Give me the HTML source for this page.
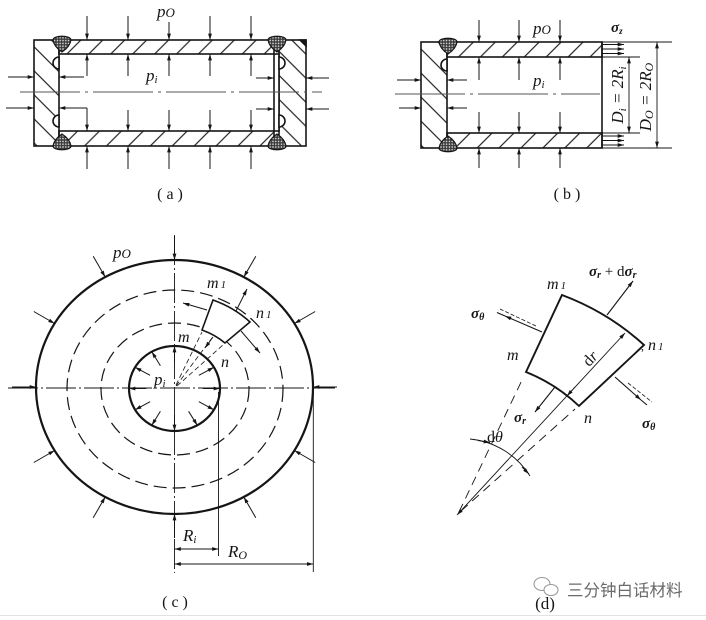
<!DOCTYPE html>
<html><head><meta charset="utf-8">
<style>
html,body{margin:0;padding:0;background:#fff;}
svg{display:block;}
text{font-family:"Liberation Serif",serif;fill:#151515;}
.it{font-style:italic;}
</style></head><body>
<svg width="706" height="620" viewBox="0 0 706 620" xmlns="http://www.w3.org/2000/svg">
<defs>
<marker id="ar" viewBox="0 0 10 6" refX="10" refY="3" markerWidth="7" markerHeight="3.8" markerUnits="userSpaceOnUse" orient="auto-start-reverse"><path d="M0,0 L10,3 L0,6 Z" fill="#151515"/></marker>
<pattern id="hc" width="17" height="17" patternUnits="userSpaceOnUse" patternTransform="rotate(-45)"><line x1="8" y1="0" x2="8" y2="17" stroke="#222" stroke-width="1.2"/></pattern>
<pattern id="hw" width="15.5" height="15.5" patternUnits="userSpaceOnUse" patternTransform="rotate(45)"><line x1="8" y1="0" x2="8" y2="15.5" stroke="#222" stroke-width="1.2"/></pattern>
<pattern id="wd" width="2.8" height="2.8" patternUnits="userSpaceOnUse"><rect width="2.8" height="2.8" fill="#3a3a3a"/><circle cx="1.4" cy="1.4" r="0.8" fill="#e6e6e6"/></pattern>
</defs>
<rect width="706" height="620" fill="#fff"/>

<!-- ================= (a) ================= -->
<g stroke="#151515" stroke-width="1.6" fill="none">
  <rect x="34" y="40" width="25" height="106" fill="url(#hc)"/>
  <rect x="59" y="40" width="215" height="14" fill="url(#hw)"/>
  <rect x="59" y="131" width="215" height="15" fill="url(#hw)"/>
  <rect x="279" y="40" width="27" height="106" fill="url(#hc)"/>
  <rect x="274" y="54" width="5" height="77" fill="#fff"/>
  <path d="M300,40 L306,40 L306,46 Z" fill="#151515"/>
  <path d="M59,57 A6,6 0 0 0 59,69 Z" fill="#fff"/>
  <path d="M59,115 A6,6 0 0 0 59,127 Z" fill="#fff"/>
  <path d="M279,57 A6,6 0 0 1 279,69 Z" fill="#fff"/>
  <path d="M279,115 A6,6 0 0 1 279,127 Z" fill="#fff"/>
  <path d="M53,40 C53,35 71,35 71,40 C70,46 65,50 62,52 C59,50 54,46 53,40 Z" fill="url(#wd)" stroke-width="1.2"/>
  <path d="M53,146 C53,151 71,151 71,146 C70,140 65,136 62,134 C59,136 54,140 53,146 Z" fill="url(#wd)" stroke-width="1.2"/>
  <path d="M268,40 C268,35 286,35 286,40 C285,46 280,50 277,52 C274,50 269,46 268,40 Z" fill="url(#wd)" stroke-width="1.2"/>
  <path d="M268,146 C268,151 286,151 286,146 C285,140 280,136 277,134 C274,136 269,140 268,146 Z" fill="url(#wd)" stroke-width="1.2"/>
</g>
<line x1="20" y1="92" x2="322" y2="92" stroke="#555" stroke-width="0.9" stroke-dasharray="60 5 3 5"/>
<g stroke="#151515" stroke-width="1" marker-end="url(#ar)">
  <line x1="87" y1="16" x2="87" y2="40"/><line x1="128" y1="16" x2="128" y2="40"/><line x1="169" y1="22" x2="169" y2="40"/><line x1="210" y1="16" x2="210" y2="40"/><line x1="251" y1="16" x2="251" y2="40"/>
  <line x1="87" y1="76" x2="87" y2="54"/><line x1="128" y1="76" x2="128" y2="54"/><line x1="169" y1="76" x2="169" y2="54"/><line x1="210" y1="76" x2="210" y2="54"/><line x1="251" y1="76" x2="251" y2="54"/>
  <line x1="87" y1="108" x2="87" y2="131"/><line x1="128" y1="110" x2="128" y2="131"/><line x1="169" y1="110" x2="169" y2="131"/><line x1="210" y1="110" x2="210" y2="131"/><line x1="251" y1="110" x2="251" y2="131"/>
  <line x1="87" y1="169" x2="87" y2="146"/><line x1="128" y1="169" x2="128" y2="146"/><line x1="169" y1="169" x2="169" y2="146"/><line x1="210" y1="169" x2="210" y2="146"/><line x1="251" y1="169" x2="251" y2="146"/>
  <line x1="8" y1="77" x2="34" y2="77"/><line x1="6" y1="108" x2="34" y2="108"/>
  <line x1="84" y1="77" x2="59" y2="77"/><line x1="87" y1="108" x2="59" y2="108"/>
  <line x1="256" y1="78" x2="274" y2="78"/><line x1="256" y1="109" x2="274" y2="109"/>
  <line x1="329" y1="78" x2="306" y2="78"/><line x1="329" y1="109" x2="306" y2="109"/>
</g>
<text x="157" y="17" class="it" font-size="17">p<tspan font-size="13">O</tspan></text>
<text x="146" y="81" class="it" font-size="17">p<tspan font-size="11" dy="2">i</tspan></text>
<text x="170" y="199" font-size="16" text-anchor="middle">( a )</text>

<!-- ================= (b) ================= -->
<g stroke="#151515" stroke-width="1.6" fill="none">
  <rect x="421" y="42" width="26" height="106" fill="url(#hc)"/>
  <rect x="447" y="42" width="155" height="15" fill="url(#hw)"/>
  <rect x="447" y="133" width="155" height="15" fill="url(#hw)"/>
  <line x1="602" y1="42" x2="602" y2="148"/>
  <path d="M447,59 A6,6 0 0 0 447,71 Z" fill="#fff"/>
  <path d="M439,42 C439,37 457,37 457,42 C456,48 451,52 448,54 C445,52 440,48 439,42 Z" fill="url(#wd)" stroke-width="1.2"/>
  <path d="M439,148 C439,153 457,153 457,148 C456,142 451,138 448,136 C445,138 440,142 439,148 Z" fill="url(#wd)" stroke-width="1.2"/>
</g>
<line x1="395" y1="94" x2="600" y2="94" stroke="#555" stroke-width="0.9" stroke-dasharray="70 5 3 5"/>
<g stroke="#151515" stroke-width="1" marker-end="url(#ar)">
  <line x1="479" y1="20" x2="479" y2="42"/><line x1="519" y1="20" x2="519" y2="42"/><line x1="560" y1="20" x2="560" y2="42"/>
  <line x1="479" y1="80" x2="479" y2="57"/><line x1="519" y1="80" x2="519" y2="57"/><line x1="560" y1="80" x2="560" y2="57"/>
  <line x1="479" y1="112" x2="479" y2="133"/><line x1="519" y1="112" x2="519" y2="133"/><line x1="560" y1="112" x2="560" y2="133"/>
  <line x1="479" y1="168" x2="479" y2="148"/><line x1="519" y1="168" x2="519" y2="148"/><line x1="560" y1="168" x2="560" y2="148"/>
  <line x1="397" y1="80" x2="421" y2="80"/><line x1="399" y1="108" x2="421" y2="108"/>
  <line x1="467" y1="80" x2="447" y2="80"/><line x1="467" y1="108" x2="447" y2="108"/>
  <line x1="602" y1="44.5" x2="624" y2="44.5"/><line x1="602" y1="49" x2="624" y2="49"/><line x1="602" y1="53.5" x2="624" y2="53.5"/>
  <line x1="602" y1="136" x2="624" y2="136"/><line x1="602" y1="140.5" x2="624" y2="140.5"/><line x1="602" y1="145" x2="624" y2="145"/>
</g>
<g stroke="#151515" stroke-width="0.9">
  <line x1="602" y1="42" x2="672" y2="42"/><line x1="602" y1="148" x2="672" y2="148"/>
  <line x1="602" y1="57" x2="640" y2="57"/><line x1="602" y1="133" x2="640" y2="133"/>
  <line x1="629" y1="57" x2="629" y2="133" marker-start="url(#ar)" marker-end="url(#ar)"/>
  <line x1="657" y1="42" x2="657" y2="148" marker-start="url(#ar)" marker-end="url(#ar)"/>
</g>
<text x="533" y="34" class="it" font-size="17">p<tspan font-size="13">O</tspan></text>
<text x="533" y="86" class="it" font-size="17">p<tspan font-size="11" dy="2">i</tspan></text>
<text x="611" y="32" class="it" font-size="15" font-weight="bold">σ<tspan font-size="9" dy="2">z</tspan></text>
<text transform="translate(623,95) rotate(-90)" text-anchor="middle" class="it" font-size="17">D<tspan font-size="11" dy="3">i</tspan><tspan dy="-3"> = 2R</tspan><tspan font-size="11" dy="3">i</tspan></text>
<text transform="translate(651,97) rotate(-90)" text-anchor="middle" class="it" font-size="17">D<tspan font-size="12" dy="2">O</tspan><tspan dy="-2"> = 2R</tspan><tspan font-size="12" dy="2">O</tspan></text>
<text x="567" y="199" font-size="16" text-anchor="middle">( b )</text>

<!-- ================= (c) ================= -->
<g fill="none" stroke="#151515">
  <ellipse cx="175" cy="389" rx="108" ry="99" stroke-width="1.2" stroke-dasharray="13 6"/>
  <ellipse cx="175" cy="389" rx="74" ry="66" stroke-width="1.2" stroke-dasharray="13 6"/>
  <ellipse cx="174.5" cy="387" rx="138.5" ry="127" stroke-width="2.2"/>
  <ellipse cx="174.5" cy="388.5" rx="45.5" ry="42.5" stroke-width="2.2"/>
  <line x1="8" y1="388" x2="335" y2="388" stroke-width="0.9" stroke-dasharray="30 3 2 3"/>
  <line x1="174.5" y1="235" x2="174.5" y2="573" stroke-width="0.9" stroke-dasharray="30 3 2 3"/>
  <path d="M202,330 L213,300 A108,99 0 0 1 250,322 L225,343 A74,66 0 0 0 202,330 Z" fill="#fff" stroke-width="1.6"/>
  <line x1="176" y1="385" x2="202" y2="332" stroke-width="0.8" stroke-dasharray="5 3"/>
  <line x1="177" y1="386" x2="224" y2="344" stroke-width="0.8" stroke-dasharray="5 3"/>
  <line x1="176" y1="386" x2="212" y2="338" stroke-width="0.8" stroke-dasharray="5 3"/>
</g>
<g stroke="#151515" stroke-width="1" marker-end="url(#ar)">
  <line x1="337" y1="387" x2="313" y2="387"/>
  <line x1="315.2" y1="311.5" x2="294.4" y2="323.5"/>
  <line x1="255.8" y1="256.2" x2="243.8" y2="277"/>
  <line x1="174.5" y1="236" x2="174.5" y2="260"/>
  <line x1="93.2" y1="256.2" x2="105.2" y2="277"/>
  <line x1="33.8" y1="311.5" x2="54.6" y2="323.5"/>
  <line x1="12" y1="387" x2="36" y2="387"/>
  <line x1="33.8" y1="462.5" x2="54.6" y2="450.5"/>
  <line x1="93.2" y1="517.8" x2="105.2" y2="497"/>
  <line x1="174.5" y1="538" x2="174.5" y2="514"/>
  <line x1="255.8" y1="517.8" x2="243.8" y2="497"/>
  <line x1="315.2" y1="462.5" x2="294.4" y2="450.5"/>
  <line x1="202.7" y1="388.5" x2="220" y2="388.5"/>
  <line x1="198.9" y1="375.3" x2="213.9" y2="367.3"/>
  <line x1="174.5" y1="362" x2="174.5" y2="346"/>
  <line x1="160.4" y1="365.7" x2="151.8" y2="351.7"/>
  <line x1="150.1" y1="375.3" x2="135.1" y2="367.3"/>
  <line x1="146.3" y1="388.5" x2="129" y2="388.5"/>
  <line x1="150.1" y1="401.7" x2="135.1" y2="409.8"/>
  <line x1="160.4" y1="411.3" x2="151.8" y2="425.3"/>
  <line x1="174.5" y1="415" x2="174.5" y2="431"/>
  <line x1="188.6" y1="411.3" x2="197.3" y2="425.3"/>
  <line x1="198.9" y1="401.7" x2="213.9" y2="409.8"/>
  <line x1="236" y1="311" x2="247" y2="289"/>
  <line x1="213" y1="337" x2="205" y2="348"/>
  <line x1="207" y1="310" x2="183" y2="303"/>
  <line x1="241" y1="331" x2="260" y2="353"/>
</g>
<g stroke="#151515" stroke-width="0.9">
  <line x1="218.5" y1="392" x2="218.5" y2="556"/>
  <line x1="313.3" y1="392" x2="313.3" y2="572"/>
  <line x1="174.5" y1="549" x2="218.5" y2="549" marker-start="url(#ar)" marker-end="url(#ar)"/>
  <line x1="174.5" y1="564" x2="313.3" y2="564" marker-start="url(#ar)" marker-end="url(#ar)"/>
</g>
<text x="113" y="258" class="it" font-size="17">p<tspan font-size="13">O</tspan></text>
<text x="207" y="288" class="it" font-size="16">m<tspan font-size="11" dx="2">1</tspan></text>
<text x="256" y="318" class="it" font-size="16">n<tspan font-size="11" dx="2">1</tspan></text>
<text x="178" y="342" class="it" font-size="16">m</text>
<text x="221" y="367" class="it" font-size="16">n</text>
<text x="154" y="385" class="it" font-size="17">p<tspan font-size="11" dy="2">i</tspan></text>
<text x="183" y="541" class="it" font-size="17">R<tspan font-size="11" dy="2">i</tspan></text>
<text x="228" y="557" class="it" font-size="17">R<tspan font-size="12" dy="2">O</tspan></text>
<text x="175" y="607" font-size="16" text-anchor="middle">( c )</text>

<!-- ================= (d) ================= -->
<g fill="none" stroke="#151515">
  <path d="M526,372 L562,295 Q608.6,312.5 644,345 L579,406 Q556,384 526,372 Z" stroke-width="1.9"/>
  <line x1="459" y1="512" x2="523" y2="378" stroke-width="0.9" stroke-dasharray="9 6"/>
  <line x1="461" y1="511" x2="575" y2="409" stroke-width="0.9" stroke-dasharray="9 6"/>
  <line x1="536" y1="326" x2="500" y2="309" stroke-width="0.8" stroke-dasharray="4 2"/>
  <line x1="628" y1="383" x2="652" y2="402" stroke-width="0.8" stroke-dasharray="4 2"/>
  <path d="M470,439 A80,80 0 0 1 530,476" stroke-width="0.9"/>
</g>
<g stroke="#151515" stroke-width="1.1">
  <line x1="607" y1="315" x2="633" y2="281" marker-end="url(#ar)"/>
  <line x1="542" y1="332" x2="505" y2="316" marker-end="url(#ar)"/>
  <line x1="505" y1="316" x2="497" y2="312.5"/>
  <line x1="615" y1="377" x2="641" y2="400" marker-end="url(#ar)"/>
  <line x1="641" y1="400" x2="647" y2="405"/>
  <line x1="555" y1="387" x2="535" y2="412" marker-end="url(#ar)"/>
</g>
<g stroke="#151515" stroke-width="0.9">
  <line x1="457" y1="515" x2="625" y2="333" marker-start="url(#ar)" marker-end="url(#ar)"/>
  <line x1="575" y1="387" x2="567" y2="396" marker-end="url(#ar)"/>
  <line x1="478" y1="440.5" x2="490" y2="442.5" marker-end="url(#ar)"/>
  <line x1="522" y1="467" x2="529" y2="474" marker-end="url(#ar)"/>
</g>
<text x="589" y="276" font-size="15" font-weight="bold" class="it">σ<tspan font-size="10" dy="2">r</tspan><tspan dy="-2" font-weight="normal" font-style="normal"> + d</tspan>σ<tspan font-size="10" dy="2">r</tspan></text>
<text x="547" y="289" class="it" font-size="16">m<tspan font-size="11" dx="2">1</tspan></text>
<text x="471" y="318" class="it" font-size="15" font-weight="bold">σ<tspan font-size="10" dy="2">θ</tspan></text>
<text x="507" y="360" class="it" font-size="16">m</text>
<text x="641" y="350" font-size="12">,</text>
<text x="648" y="350" class="it" font-size="16">n<tspan font-size="11" dx="2">1</tspan></text>
<text transform="translate(594,362) rotate(-47)" text-anchor="middle" font-size="16">d<tspan class="it">r</tspan></text>
<text x="514" y="422" class="it" font-size="15" font-weight="bold">σ<tspan font-size="10" dy="2">r</tspan></text>
<text x="584" y="423" class="it" font-size="16">n</text>
<text x="642" y="428" class="it" font-size="15" font-weight="bold">σ<tspan font-size="10" dy="2">θ</tspan></text>
<text x="487" y="442" font-size="16">d<tspan class="it">θ</tspan></text>

<!-- watermark -->
<g fill="#fff" stroke="#9a9a9a" stroke-width="1.1">
  <ellipse cx="542" cy="584" rx="8" ry="6.5"/>
  <ellipse cx="551" cy="590" rx="7" ry="5.5"/>
</g>
<text x="567" y="596" font-size="16.5" style="font-family:'Liberation Sans','Noto Sans CJK SC',sans-serif;fill:#6a6a6a;">三分钟白话材料</text>
<text x="545" y="609" font-size="17" text-anchor="middle">(d)</text>

<line x1="0" y1="615.5" x2="706" y2="615.5" stroke="#e2e2e2" stroke-width="1"/>
</svg>
</body></html>
